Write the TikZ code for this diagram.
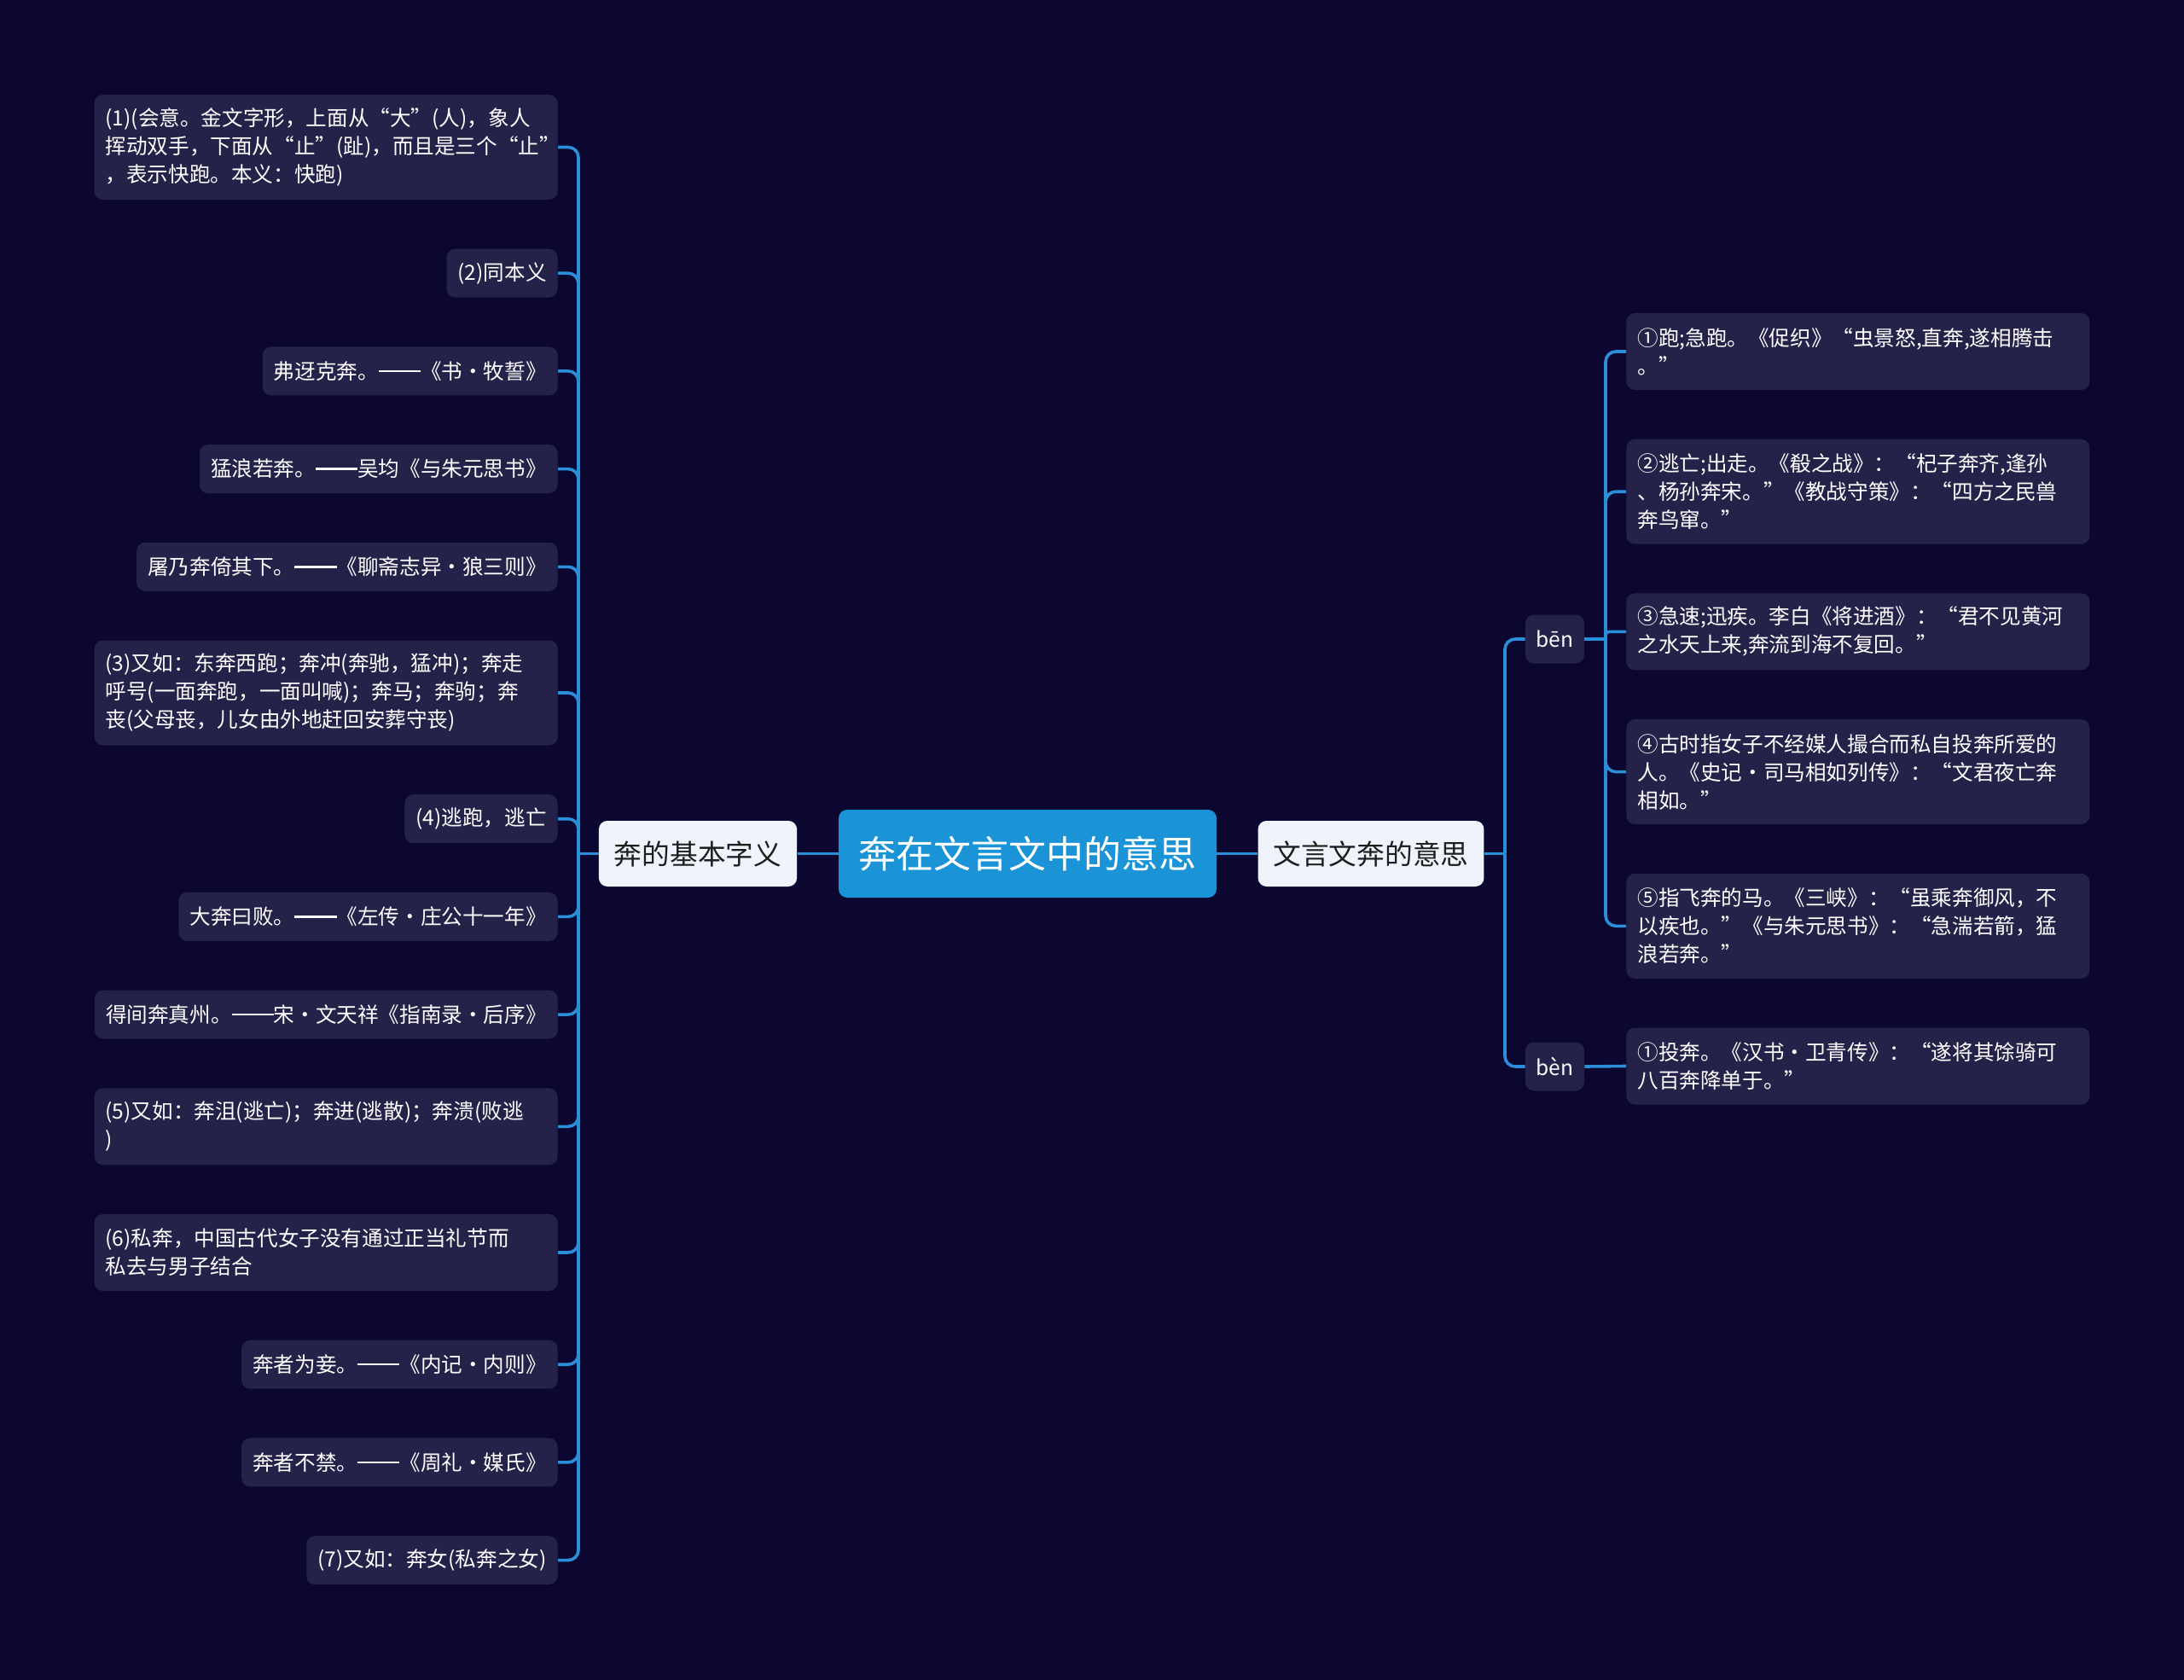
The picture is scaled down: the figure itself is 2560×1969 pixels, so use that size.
\documentclass[tikz,border=0pt]{standalone}
\usepackage{fontspec}
\setmainfont{Noto Sans CJK SC}
\newcommand{\dd}{\rule[0.33em]{2em}{0.1em}}
\definecolor{bgc}{HTML}{0B0730}
\definecolor{leafc}{HTML}{25224A}
\definecolor{linec}{HTML}{2A8FD8}
\definecolor{rootc}{HTML}{1A94D6}
\definecolor{mainc}{HTML}{EEF3FC}
\definecolor{maintext}{HTML}{1E1E1E}
\tikzset{
  leaf/.style={fill=leafc, rounded corners=5pt, text=white,
    font=\fontsize{12.3pt}{16.5pt}\selectfont, inner xsep=6.5pt, inner ysep=1pt,
    minimum height=28.5pt, align=left},
  multi/.style={leaf, text width=258.5pt},
  two/.style={multi, minimum height=45pt},
  three/.style={multi, minimum height=61.5pt},
  mainbox/.style={fill=mainc, rounded corners=5pt, text=maintext,
    font=\fontsize{16.35pt}{20pt}\selectfont, inner xsep=9pt, inner ysep=1pt,
    minimum height=38.5pt},
  rootbox/.style={fill=rootc, rounded corners=5pt, text=white,
    font=\fontsize{22pt}{26pt}\selectfont, inner xsep=11.75pt, inner ysep=1pt,
    minimum height=51.5pt},
  pinyin/.style={leaf, minimum width=34.5pt, inner xsep=2pt},
  conn/.style={draw=linec, line width=1.8pt},
  rc/.style={conn, rounded corners=6pt}
}
\begin{document}
\begin{tikzpicture}[x=0.5pt, y=-0.5pt]
\fill[bgc] (0,0) rectangle (2560,1969);
\useasboundingbox (0,0) rectangle (2560,1969);

% root and main branches
\node[rootbox] (root) at (1204.5,1000.5) {奔在文言文中的意思};
\node[mainbox] (lm) at (818,1000.5) {奔的基本字义};
\node[mainbox] (rm) at (1607,1000.5) {文言文奔的意思};

% left leaves
\node[three, anchor=east] (L1) at (654,172.5) {\mbox{(1)(会意。金文字形，上面从“大”(人)，象人}\\\mbox{挥动双手，下面从“止”(趾)，而且是三个“止”}\\\mbox{，表示快跑。本义：快跑)}};
\node[leaf, anchor=east] (L2) at (654,320.2) {(2)同本义};
\node[leaf, anchor=east] (L3) at (654,434.9) {弗迓克奔。\dd《书·牧誓》};
\node[leaf, anchor=east] (L4) at (654,549.6) {猛浪若奔。\dd 吴均《与朱元思书》};
\node[leaf, anchor=east] (L5) at (654,664.3) {屠乃奔倚其下。\dd《聊斋志异·狼三则》};
\node[three, anchor=east] (L6) at (654,812) {\mbox{(3)又如：东奔西跑；奔冲(奔驰，猛冲)；奔走}\\\mbox{呼号(一面奔跑，一面叫喊)；奔马；奔驹；奔}\\\mbox{丧(父母丧，儿女由外地赶回安葬守丧)}};
\node[leaf, anchor=east] (L7) at (654,959.7) {(4)逃跑，逃亡};
\node[leaf, anchor=east] (L8) at (654,1074.4) {大奔曰败。\dd《左传·庄公十一年》};
\node[leaf, anchor=east] (L9) at (654,1189.1) {得间奔真州。\dd 宋·文天祥《指南录·后序》};
\node[two, anchor=east] (L10) at (654,1320.3) {\mbox{(5)又如：奔沮(逃亡)；奔进(逃散)；奔溃(败逃}\\\mbox{)}};
\node[two, anchor=east] (L11) at (654,1468) {\mbox{(6)私奔，中国古代女子没有通过正当礼节而}\\\mbox{私去与男子结合}};
\node[leaf, anchor=east] (L12) at (654,1599.2) {奔者为妾。\dd《内记·内则》};
\node[leaf, anchor=east] (L13) at (654,1713.9) {奔者不禁。\dd《周礼·媒氏》};
\node[leaf, anchor=east] (L14) at (654,1828.6) {(7)又如：奔女(私奔之女)};

% right side
\node[pinyin] (b1) at (1822.5,749) {bēn};
\node[pinyin] (b2) at (1822.5,1250) {bèn};

\node[two, anchor=west] (R1) at (1906,412) {\mbox{①跑;急跑。《促织》“虫景怒,直奔,遂相腾击}\\\mbox{。”}};
\node[three, anchor=west] (R2) at (1906,576.2) {\mbox{②逃亡;出走。《殽之战》：“杞子奔齐,逢孙}\\\mbox{、杨孙奔宋。”《教战守策》：“四方之民兽}\\\mbox{奔鸟窜。”}};
\node[two, anchor=west] (R3) at (1906,740.4) {\mbox{③急速;迅疾。李白《将进酒》：“君不见黄河}\\\mbox{之水天上来,奔流到海不复回。”}};
\node[three, anchor=west] (R4) at (1906,904.6) {\mbox{④古时指女子不经媒人撮合而私自投奔所爱的}\\\mbox{人。《史记·司马相如列传》：“文君夜亡奔}\\\mbox{相如。”}};
\node[three, anchor=west] (R5) at (1906,1085.3) {\mbox{⑤指飞奔的马。《三峡》：“虽乘奔御风，不}\\\mbox{以疾也。”《与朱元思书》：“急湍若箭，猛}\\\mbox{浪若奔。”}};
\node[two, anchor=west] (R6) at (1906,1249.5) {\mbox{①投奔。《汉书·卫青传》：“遂将其馀骑可}\\\mbox{八百奔降单于。”}};

% junction coordinates
\coordinate (tl) at (678,1000.5);
\coordinate (tr) at (1764,1000.5);
\coordinate (tb) at (1882,749);

% connectors
\draw[conn] (root.west) -- (lm.east);
\draw[conn] (root.east) -- (rm.west);
\draw[conn] (lm.west) -- (tl);
\foreach \i in {1,...,14} { \draw[rc] (tl) |- (L\i.east); }
\draw[conn] (rm.east) -- (tr);
\draw[rc] (tr) |- (b1.west);
\draw[rc] (tr) |- (b2.west);
\draw[conn] (b1.east) -- (tb);
\foreach \i in {1,2,4,5} { \draw[rc] (tb) |- (R\i.west); }
\draw[conn, rounded corners=2pt] (tb) |- (R3.west);
\draw[conn] (b2.east) -- (R6.west);
\end{tikzpicture}
\end{document}
